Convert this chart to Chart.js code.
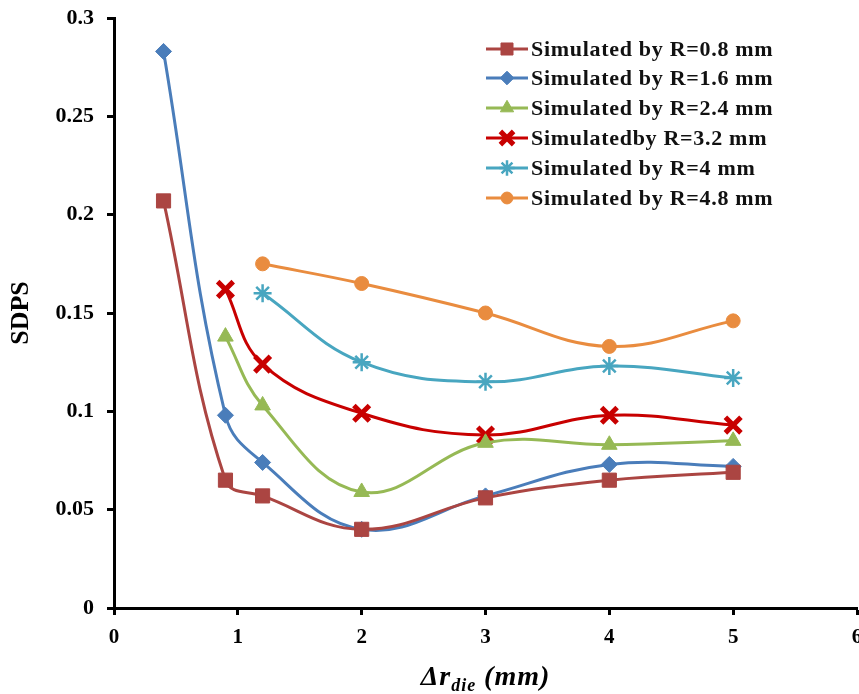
<!DOCTYPE html>
<html>
<head>
<meta charset="utf-8">
<script src="https://cdn.jsdelivr.net/npm/chart.js@4/dist/chart.umd.min.js"></script>
<style>
  html, body { margin: 0; padding: 0; background: #fff; overflow: hidden; }
  #wrap { width: 859px; height: 694px; }
  canvas { display: block; }
</style>
</head>
<body>
<div id="wrap"><canvas id="sdpsChart"></canvas></div>
<script>
// delta r_die (mm) for every measured point
const xValues = [0.4, 0.9, 1.2, 2, 3, 4, 5];

// SDPS per die radius R, null where the series has no point
const r08 = [0.207, 0.065, 0.057, 0.040, 0.056, 0.065, 0.069];
const r16 = [0.283, 0.098, 0.074, 0.040, 0.057, 0.073, 0.072];
const r24 = [null, 0.138, 0.103, 0.059, 0.084, 0.083, 0.085];
const r32 = [null, 0.162, 0.124, 0.099, 0.088, 0.098, 0.093];
const r40 = [null, null, 0.160, 0.125, 0.115, 0.123, 0.117];
const r48 = [null, null, 0.175, 0.165, 0.150, 0.133, 0.146];

const seriesLabels = [
  "Simulated by R=0.8 mm",
  "Simulated by R=1.6 mm",
  "Simulated by R=2.4 mm",
  "Simulatedby R=3.2 mm",
  "Simulated by R=4 mm",
  "Simulated by R=4.8 mm"
];
const yTicks = [0, 0.05, 0.1, 0.15, 0.2, 0.25, 0.3];
const xTicks = [0, 1, 2, 3, 4, 5, 6];

const FONT = "'Liberation Serif', 'Times New Roman', serif";

function toPoints(ys) {
  return xValues.map((x, i) => ({ x: x, y: ys[i] })).filter(p => p.y !== null);
}

const styles = [
  { color: "#AB4542", point: "rect", radius: 10, bw: 1 },
  { color: "#4A7DBA", point: "rectRot", radius: 8, bw: 1 },
  { color: "#96B955", point: "triangle", radius: 9, bw: 1 },
  { color: "#C80000", point: "crossRot", radius: 11, bw: 5 },
  { color: "#48A6C0", point: "star", radius: 9, bw: 2.5 },
  { color: "#E98C3F", point: "circle", radius: 7, bw: 1 }
];

const allSeries = [r08, r16, r24, r32, r40, r48];

const datasets = allSeries.map((s, i) => ({
  label: seriesLabels[i],
  data: toPoints(s),
  borderColor: styles[i].color,
  backgroundColor: styles[i].color,
  borderWidth: 3,
  tension: 0.4,
  pointStyle: styles[i].point,
  pointRadius: styles[i].radius,
  pointHoverRadius: styles[i].radius,
  pointBorderWidth: styles[i].bw,
  pointBorderColor: styles[i].color,
  pointBackgroundColor: styles[i].color
}));

// legend drawn inside the plot, line + marker like the original
const insideLegend = {
  id: "insideLegend",
  afterDraw(chart) {
    const ctx = chart.ctx;
    const rowY = [49, 78, 108, 138, 168, 198];
    ctx.save();
    chart.data.datasets.forEach((ds, i) => {
      const y = rowY[i];
      ctx.strokeStyle = ds.borderColor;
      ctx.lineWidth = 3;
      ctx.beginPath();
      ctx.moveTo(486, y);
      ctx.lineTo(528, y);
      ctx.stroke();
      ctx.fillStyle = ds.borderColor;
      ctx.strokeStyle = ds.borderColor;
      ctx.lineWidth = ds.pointBorderWidth;
      Chart.helpers.drawPoint(ctx, {
        pointStyle: ds.pointStyle,
        radius: ds.pointRadius * 0.85,
        rotation: 0,
        borderWidth: ds.pointBorderWidth
      }, 507, y);
      ctx.fillStyle = "#111";
      ctx.font = "bold 22px " + FONT;
      ctx.letterSpacing = "0.7px";
      ctx.textBaseline = "middle";
      ctx.textAlign = "left";
      ctx.fillText(ds.label, 531, y + 1);
    });
    ctx.restore();
  }
};

// x axis title with the "die" subscript
const xTitle = {
  id: "xTitle",
  afterDraw(chart) {
    const ctx = chart.ctx;
    const area = chart.chartArea;
    const big = "italic bold 28px " + FONT;
    const small = "italic bold 18px " + FONT;
    ctx.save();
    ctx.fillStyle = "#000";
    ctx.textBaseline = "alphabetic";
    ctx.letterSpacing = "1px";
    ctx.font = big;
    const w1 = ctx.measureText("\u0394r").width;
    const w3 = ctx.measureText(" (mm)").width;
    ctx.font = small;
    const w2 = ctx.measureText("die").width;
    let x = (area.left + area.right) / 2 - (w1 + w2 + w3) / 2;
    const y = 685;
    ctx.font = big;
    ctx.fillText("\u0394r", x, y);
    x += w1;
    ctx.font = small;
    ctx.fillText("die", x, y + 6);
    x += w2;
    ctx.font = big;
    ctx.fillText(" (mm)", x, y);
    ctx.restore();
  }
};

new Chart(document.getElementById("sdpsChart"), {
  type: "line",
  data: { datasets: datasets },
  plugins: [insideLegend, xTitle],
  options: {
    responsive: true,
    maintainAspectRatio: false,
    animation: false,
    layout: { autoPadding: false, padding: { top: 18, right: 2, left: 0, bottom: 0 } },
    plugins: {
      legend: { display: false },
      tooltip: { enabled: false }
    },
    scales: {
      x: {
        type: "linear",
        min: 0,
        max: 6,
        afterBuildTicks: s => { s.ticks = xTicks.map(v => ({ value: v })); },
        afterFit: s => { s.paddingRight = 0; s.paddingLeft = 0; s.height = 86; },
        ticks: {
          color: "#000",
          font: { family: FONT, size: 21, weight: "bold" },
          padding: 10,
          maxRotation: 0
        },
        grid: {
          drawOnChartArea: false,
          drawTicks: true,
          tickLength: 7,
          tickWidth: 3,
          tickColor: "#000"
        },
        border: { display: true, color: "#000", width: 3 }
      },
      y: {
        min: 0,
        max: 0.3,
        afterBuildTicks: s => { s.ticks = yTicks.map(v => ({ value: v })); },
        afterFit: s => { s.width = 114; s.paddingTop = 0; s.paddingBottom = 0; },
        ticks: {
          color: "#000",
          font: { family: FONT, size: 22, weight: "bold" },
          padding: 13,
          callback: v => String(+v.toFixed(2))
        },
        grid: {
          drawOnChartArea: false,
          drawTicks: true,
          tickLength: 7,
          tickWidth: 3,
          tickColor: "#000"
        },
        border: { display: true, color: "#000", width: 3 },
        title: {
          display: true,
          text: "SDPS",
          color: "#000",
          font: { family: FONT, size: 26, weight: "bold" },
          padding: { top: 6, bottom: 0 }
        }
      }
    }
  }
});
</script>
</body>
</html>
